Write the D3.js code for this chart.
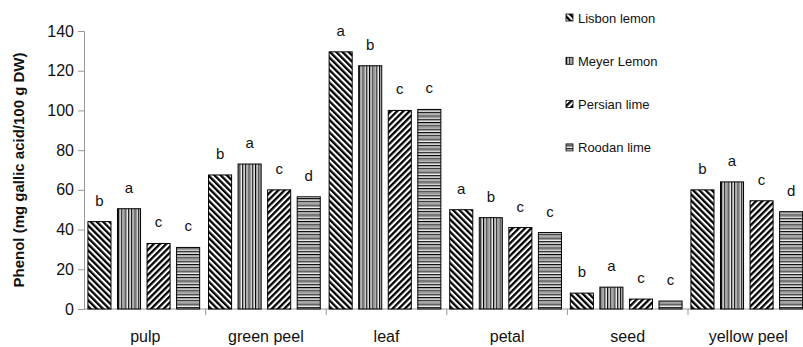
<!DOCTYPE html>
<html>
<head>
<meta charset="utf-8">
<script src="https://cdn.jsdelivr.net/npm/d3@7"></script>
<style>
  body { margin: 0; background: #fff; }
  svg { font-family: Arial, "Liberation Sans", sans-serif; }
</style>
</head>
<body>
<svg id="chart" width="803" height="347"></svg>
<script>
const categories = ["pulp", "green peel", "leaf", "petal", "seed", "yellow peel"];
const varieties = ["Lisbon lemon", "Meyer Lemon", "Persian lime", "Roodan lime"];

// phenol per variety, one value per category
const lisbon  = [44, 67.5, 129.5, 50, 8, 60];
const meyer   = [50.5, 73, 122.5, 46, 11, 64];
const persian = [33, 60, 100, 41, 5, 54.5];
const roodan  = [31, 56.5, 100.5, 38.5, 4, 49];

// significance letters
const lisbonLetters  = ["b", "b", "a", "a", "b", "b"];
const meyerLetters   = ["a", "a", "b", "b", "a", "a"];
const persianLetters = ["c", "c", "c", "c", "c", "c"];
const roodanLetters  = ["c", "d", "c", "c", "c", "d"];

const yTicks = [0, 20, 40, 60, 80, 100, 120, 140];

const values = [lisbon, meyer, persian, roodan];
const letters = [lisbonLetters, meyerLetters, persianLetters, roodanLetters];

const svg = d3.select("#chart");
const defs = svg.append("defs");

// fill patterns
function stripes(id, size, angle, parts) {
  const p = defs.append("pattern")
    .attr("id", id)
    .attr("patternUnits", "userSpaceOnUse")
    .attr("width", size).attr("height", size)
    .attr("patternTransform", `rotate(${angle})`);
  p.append("rect").attr("width", size).attr("height", size).attr("fill", "#fff");
  parts.forEach(d => p.append("rect")
    .attr("x", d[0]).attr("width", d[1]).attr("height", size).attr("fill", d[2]));
}
stripes("p0", 4.4, -45, [[0, 2.3, "#000"]]);
stripes("p1", 3.3, 0, [[0, 1.1, "#000"], [1.6, 1, "#9a9a9a"]]);
stripes("p2", 4.4, 45, [[0, 2.3, "#000"]]);
stripes("p3", 3.3, 90, [[0, 1.1, "#000"], [1.6, 1, "#9a9a9a"]]);

const axisX = 84;
const x0 = d3.scaleBand().domain(categories).range([85, 85 + 6 * 120.6]);
const x1 = d3.scaleBand().domain(d3.range(4)).range([0, x0.bandwidth()])
  .paddingInner(0.22).paddingOuter(0.15).align(0.33);
const y = d3.scaleLinear().domain([0, 140]).range([309, 31]);

const axisColor = "#999";

// y axis
const gy = svg.append("g").attr("transform", `translate(${axisX},0)`)
  .call(d3.axisLeft(y).tickValues(yTicks).tickSize(6).tickPadding(4));
gy.select(".domain").attr("stroke", axisColor);
gy.selectAll(".tick line").attr("stroke", axisColor);
gy.selectAll(".tick text").attr("font-size", 16).attr("fill", "#111")
  .attr("font-family", "Arial, 'Liberation Sans', sans-serif");

// x axis
const gx = svg.append("g").attr("transform", `translate(0,${y(0)})`);
gx.append("line").attr("x1", axisX).attr("x2", 803).attr("stroke", axisColor);
gx.selectAll(".sep").data(categories.slice(1)).enter().append("line")
  .attr("x1", d => x0(d)).attr("x2", d => x0(d))
  .attr("y1", 0).attr("y2", 6).attr("stroke", axisColor);
gx.selectAll(".cat").data(categories).enter().append("text")
  .attr("x", d => x0(d) + x0.bandwidth() / 2)
  .attr("y", 33)
  .attr("text-anchor", "middle")
  .attr("font-size", 16).attr("fill", "#111")
  .text(d => d);

// bars
const groups = svg.selectAll(".grp").data(categories).enter().append("g")
  .attr("transform", d => `translate(${x0(d)},0)`);

groups.each(function (cat, ci) {
  const g = d3.select(this);
  values.forEach((vals, vi) => {
    const v = vals[ci];
    g.append("rect")
      .attr("x", x1(vi)).attr("y", y(v))
      .attr("width", x1.bandwidth()).attr("height", y(0) - y(v))
      .attr("fill", `url(#p${vi})`)
      .attr("stroke", "#000").attr("stroke-width", 1);
    g.append("text")
      .attr("x", x1(vi) + x1.bandwidth() / 2)
      .attr("y", y(v) - 16)
      .attr("text-anchor", "middle")
      .attr("font-size", 15).attr("fill", "#111")
      .text(letters[vi][ci]);
  });
});

// y title
svg.append("text")
  .attr("transform", `translate(24,${(y(0) + y(140)) / 2}) rotate(-90)`)
  .attr("text-anchor", "middle")
  .attr("font-size", 15).attr("font-weight", "bold").attr("fill", "#111")
  .text("Phenol (mg gallic acid/100 g DW)");

// legend
const legend = svg.append("g").attr("transform", "translate(566,18)");
varieties.forEach((name, i) => {
  const row = legend.append("g").attr("transform", `translate(0,${i * 43.3})`);
  row.append("rect").attr("x", 0).attr("y", -4).attr("width", 7).attr("height", 7)
    .attr("fill", `url(#p${i})`).attr("stroke", "#000").attr("stroke-width", 0.8);
  row.append("text").attr("x", 12).attr("y", 0).attr("dy", "0.35em")
    .attr("font-size", 13).attr("fill", "#111").text(name);
});
</script>
</body>
</html>
